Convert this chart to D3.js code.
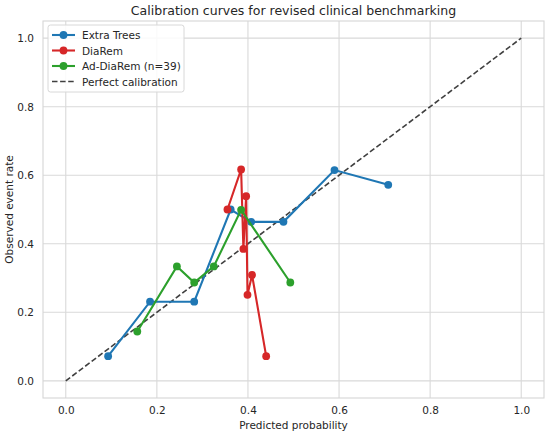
<!DOCTYPE html>
<html>
<head>
<meta charset="utf-8">
<script src="https://cdn.jsdelivr.net/npm/d3@7/dist/d3.min.js"></script>
<style>
  body { margin: 0; background: #fff; }
  text { font-family: "DejaVu Sans", sans-serif; fill: #262626; }
</style>
</head>
<body>
<div id="chart"></div>
<script>
// calibration points (predicted, observed)
var extraTreesX = [0.093, 0.185, 0.282, 0.362, 0.407, 0.478, 0.590, 0.708];
var extraTreesY = [0.072, 0.231, 0.231, 0.500, 0.464, 0.464, 0.615, 0.572];

var diaRemX = [0.355, 0.385, 0.390, 0.396, 0.399, 0.409, 0.440];
var diaRemY = [0.500, 0.617, 0.385, 0.539, 0.251, 0.309, 0.072];

var adDiaRemX = [0.157, 0.244, 0.282, 0.325, 0.385, 0.493];
var adDiaRemY = [0.144, 0.334, 0.287, 0.334, 0.499, 0.287];

var perfectX = [0, 1];
var perfectY = [0, 1];

var tickValues = [0, 0.2, 0.4, 0.6, 0.8, 1.0];

var seriesNames = ["Extra Trees", "DiaRem", "Ad-DiaRem (n=39)"];
var seriesColors = ["#1f77b4", "#d62728", "#2ca02c"];

var W = 550, H = 434;
var margin = { top: 21, right: 6, bottom: 36, left: 43 };
var width = W - margin.left - margin.right,
    height = H - margin.top - margin.bottom;

var svg = d3.select("#chart").append("svg")
    .attr("width", W)
    .attr("height", H);

var g = svg.append("g")
    .attr("transform", "translate(" + margin.left + "," + margin.top + ")");

var x = d3.scaleLinear().domain([-0.05, 1.05]).range([0, width]);
var y = d3.scaleLinear().domain([-0.05, 1.05]).range([height, 0]);

// grid
g.append("g").selectAll("line").data(tickValues).enter().append("line")
    .attr("x1", function(d) { return x(d); })
    .attr("x2", function(d) { return x(d); })
    .attr("y1", 0).attr("y2", height)
    .attr("stroke", "#d9d9d9").attr("stroke-width", 1.1);

g.append("g").selectAll("line").data(tickValues).enter().append("line")
    .attr("y1", function(d) { return y(d); })
    .attr("y2", function(d) { return y(d); })
    .attr("x1", 0).attr("x2", width)
    .attr("stroke", "#d9d9d9").attr("stroke-width", 1.1);

// frame
g.append("rect")
    .attr("width", width).attr("height", height)
    .attr("fill", "none").attr("stroke", "#d6d6d6").attr("stroke-width", 1.1);

var fmt = d3.format(".1f");

var xAxis = d3.axisBottom(x).tickValues(tickValues).tickFormat(fmt).tickSize(0).tickPadding(9);
var yAxis = d3.axisLeft(y).tickValues(tickValues).tickFormat(fmt).tickSize(0).tickPadding(9);

g.append("g").attr("class", "x-axis")
    .attr("transform", "translate(0," + height + ")")
    .call(xAxis);
g.append("g").attr("class", "y-axis").call(yAxis);

g.selectAll(".x-axis path, .y-axis path").remove();
g.selectAll(".x-axis text, .y-axis text")
    .style("font-family", "DejaVu Sans, sans-serif")
    .style("font-size", "10.5px")
    .attr("fill", "#262626");

// perfect calibration
var line = d3.line()
    .x(function(d) { return x(d[0]); })
    .y(function(d) { return y(d[1]); });

g.append("path")
    .datum(d3.zip(perfectX, perfectY))
    .attr("d", line)
    .attr("fill", "none")
    .attr("stroke", "#404040")
    .attr("stroke-width", 1.6)
    .attr("stroke-dasharray", "5.5,2.6");

var series = [
    d3.zip(extraTreesX, extraTreesY),
    d3.zip(diaRemX, diaRemY),
    d3.zip(adDiaRemX, adDiaRemY)
];

series.forEach(function(pts, i) {
    g.append("path")
        .datum(pts)
        .attr("d", line)
        .attr("fill", "none")
        .attr("stroke", seriesColors[i])
        .attr("stroke-width", 2.1);

    g.selectAll(".pt" + i).data(pts).enter().append("circle")
        .attr("class", "pt" + i)
        .attr("cx", function(d) { return x(d[0]); })
        .attr("cy", function(d) { return y(d[1]); })
        .attr("r", 3.9)
        .attr("fill", seriesColors[i]);
});

// labels
svg.append("text")
    .attr("x", margin.left + width / 2)
    .attr("y", 15)
    .attr("text-anchor", "middle")
    .style("font-size", "12.5px")
    .text("Calibration curves for revised clinical benchmarking");

svg.append("text")
    .attr("x", margin.left + width / 2)
    .attr("y", 429)
    .attr("text-anchor", "middle")
    .style("font-size", "10.5px")
    .text("Predicted probability");

svg.append("text")
    .attr("transform", "translate(13," + (margin.top + height / 2) + ") rotate(-90)")
    .attr("text-anchor", "middle")
    .style("font-size", "10.5px")
    .text("Observed event rate");

// legend
var legend = svg.append("g").attr("transform", "translate(48,25)");
legend.append("rect")
    .attr("width", 136).attr("height", 67)
    .attr("rx", 2.5)
    .attr("fill", "#fff").attr("fill-opacity", 0.85)
    .attr("stroke", "#d8d8d8").attr("stroke-width", 1);

var legendItems = seriesNames.concat(["Perfect calibration"]);
legendItems.forEach(function(name, i) {
    var row = legend.append("g").attr("transform", "translate(0," + (10 + i * 15.5) + ")");
    if (i < 3) {
        row.append("line")
            .attr("x1", 4).attr("x2", 27)
            .attr("stroke", seriesColors[i]).attr("stroke-width", 2.1);
        row.append("circle")
            .attr("cx", 15.5).attr("r", 3.9).attr("fill", seriesColors[i]);
    } else {
        row.append("line")
            .attr("x1", 4).attr("x2", 27)
            .attr("stroke", "#404040").attr("stroke-width", 1.6)
            .attr("stroke-dasharray", "5.5,2.6");
    }
    row.append("text")
        .attr("x", 34).attr("y", 4)
        .style("font-size", "10.5px")
        .text(name);
});
</script>
</body>
</html>
